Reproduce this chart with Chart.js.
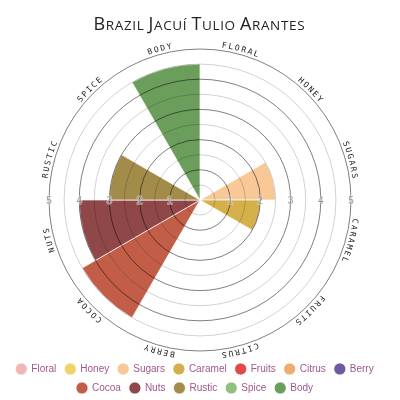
<!DOCTYPE html>
<html>
<head>
<meta charset="utf-8">
<script src="https://cdn.jsdelivr.net/npm/chart.js@4"></script>
<style>
  html, body { margin: 0; padding: 0; background: #fff; }
  #contenedor { width: 400px; height: 400px; }
</style>
</head>
<body>
<div id="contenedor"><canvas id="grafico"></canvas></div>
<script>
// Datos del perfil de sabor
const titulo = "Brazil Jacuí Tulio Arantes";
const categorias = ["Floral", "Honey", "Sugars", "Caramel", "Fruits", "Citrus", "Berry", "Cocoa", "Nuts", "Rustic", "Spice", "Body"];
const valores = [0, 0, 2.5, 2, 0, 0, 0, 4.5, 4, 3, 0, 4.5];
const colores = ["#f1b6b8", "#f2d36b", "#f8c897", "#d5b04a", "#e04a4a", "#eead6c", "#6e5aa2", "#c25e48", "#8f4748", "#a38b4a", "#8fc07c", "#6c9e5b"];
const marcasEje = [1, 2, 3, 4, 5];
const valorMaximo = 5;

// Titulo en versalitas, letra por letra
const pluginTitulo = {
  id: "tituloVersalitas",
  afterDraw(chart) {
    const ctx = chart.ctx;
    const letras = [];
    titulo.split(" ").forEach((palabra, i) => {
      if (i > 0) letras.push({ c: " ", t: 13.5 });
      [...palabra].forEach((c, k) => {
        letras.push({ c: c.toUpperCase(), t: k === 0 ? 18 : 13.5 });
      });
    });
    const espacio = 0.65;
    let total = 0;
    letras.forEach((l) => {
      ctx.font = l.t + "px 'Open Sans'";
      l.w = ctx.measureText(l.c).width;
      total += l.w + espacio;
    });
    total -= espacio;
    let x = 199 - total / 2;
    ctx.save();
    ctx.fillStyle = "#222";
    ctx.textBaseline = "alphabetic";
    ctx.textAlign = "left";
    letras.forEach((l) => {
      ctx.font = l.t + "px 'Open Sans'";
      ctx.fillText(l.c, x, 30);
      x += l.w + espacio;
    });
    ctx.restore();
  }
};

// Etiquetas curvas alrededor del circulo
const pluginEtiquetas = {
  id: "etiquetasCurvas",
  afterDraw(chart) {
    const ctx = chart.ctx;
    const escala = chart.scales.r;
    const cx = escala.xCenter;
    const cy = escala.yCenter;
    const radio = escala.drawingArea + 3;
    const paso = (2 * Math.PI) / categorias.length;
    const espacio = 1.7;
    ctx.save();
    ctx.font = "8px 'DejaVu Sans Mono'";
    ctx.fillStyle = "#222";
    ctx.textAlign = "center";
    ctx.textBaseline = "alphabetic";
    categorias.forEach((cat, i) => {
      const texto = [...cat.toUpperCase()];
      const anchos = texto.map((c) => ctx.measureText(c).width);
      const total = anchos.reduce((a, b) => a + b, 0) + espacio * (texto.length - 1);
      let ang = (i + 0.5) * paso - total / 2 / radio;
      texto.forEach((c, k) => {
        const a = ang + anchos[k] / 2 / radio;
        ctx.save();
        ctx.translate(cx + radio * Math.sin(a), cy - radio * Math.cos(a));
        ctx.rotate(a);
        ctx.fillText(c, 0, 0);
        ctx.restore();
        ang += (anchos[k] + espacio) / radio;
      });
    });
    ctx.restore();
  }
};

// Numeros del eje horizontal a ambos lados
const pluginMarcas = {
  id: "marcasHorizontales",
  afterDraw(chart) {
    const ctx = chart.ctx;
    const escala = chart.scales.r;
    const cx = escala.xCenter;
    const cy = escala.yCenter;
    ctx.save();
    ctx.font = "10px 'Liberation Sans'";
    ctx.textAlign = "center";
    ctx.textBaseline = "middle";
    ctx.lineWidth = 1.5;
    ctx.strokeStyle = "rgba(255,255,255,0.45)";
    ctx.fillStyle = "#999";
    marcasEje.forEach((v) => {
      const d = escala.getDistanceFromCenterForValue(v);
      [cx + d, cx - d].forEach((x) => {
        ctx.strokeText(String(v), x, cy + 1);
        ctx.fillText(String(v), x, cy + 1);
      });
    });
    ctx.restore();
  }
};

// Ajuste fino de la leyenda
const pluginLeyenda = {
  id: "moverLeyenda",
  afterLayout(chart) {
    const ley = chart.legend;
    ley.left -= 5;
    ley.right -= 5;
    ley.top += 3;
    ley.bottom += 3;
  }
};

const grafico = new Chart(document.getElementById("grafico"), {
  type: "polarArea",
  data: {
    labels: categorias,
    datasets: [
      {
        data: valores,
        backgroundColor: colores,
        borderColor: "rgba(255,255,255,0.7)",
        borderWidth: 1,
      },
    ],
  },
  options: {
    responsive: true,
    maintainAspectRatio: false,
    animation: false,
    layout: {
      padding: { top: 49, left: 0, right: 0, bottom: 0 },
    },
    scales: {
      r: {
        min: 0,
        max: valorMaximo,
        ticks: { display: false, stepSize: 0.5 },
        grid: {
          z: 1,
          lineWidth: 1,
          color: (context) =>
            context.tick && context.tick.value % 1 === 0
              ? "rgba(0,0,0,0.5)"
              : "rgba(0,0,0,0.18)",
        },
      },
    },
    plugins: {
      legend: {
        position: "bottom",
        labels: {
          usePointStyle: true,
          pointStyle: "circle",
          boxWidth: 12,
          boxHeight: 8.5,
          padding: 9,
          color: "#a0588c",
          font: { size: 10, family: "'Liberation Sans', Arial, sans-serif" },
        },
      },
      tooltip: { enabled: false },
    },
  },
  plugins: [pluginTitulo, pluginEtiquetas, pluginMarcas, pluginLeyenda],
});
</script>
</body>
</html>
